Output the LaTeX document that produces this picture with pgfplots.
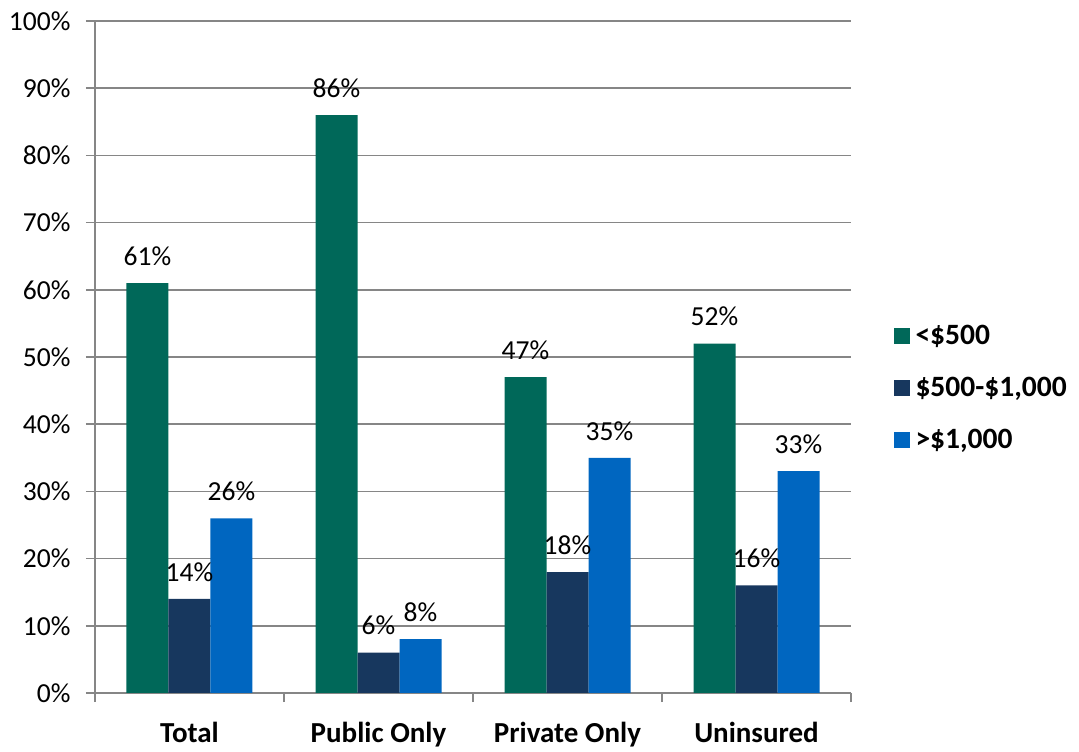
\documentclass[border=0pt]{standalone}
\usepackage{pgfplots}
\pgfplotsset{compat=1.18}
\usepackage{fontspec}
\setmainfont{Carlito}
\definecolor{cgreen}{RGB}{0,104,89}
\definecolor{cnavy}{RGB}{23,55,94}
\definecolor{cblue}{RGB}{0,102,192}
\definecolor{cgrid}{RGB}{134,134,134}
\begin{document}
\begin{tikzpicture}
\path[use as bounding box] (-95pt,-59pt) rectangle (984pt,693pt);
\begin{axis}[
    at={(0,0)}, anchor=south west,
    scale only axis,
    width=756pt, height=672pt,
    ybar=0pt, bar width=42pt,
    xmin=-0.5, xmax=3.5,
    ymin=0, ymax=100,
    axis lines*=left,
    axis line style={cgrid, line width=1.5pt},
    tick align=outside,
    tick style={cgrid, line width=1.5pt},
    major tick length=9pt,
    xtick={-0.5,0.5,1.5,2.5,3.5},
    xticklabels={},
    extra x ticks={0,1,2,3},
    extra x tick labels={Total,Public Only,Private Only,Uninsured},
    extra x tick style={major tick length=0pt, grid=none,
        tick label style={font=\fontsize{29}{32}\selectfont\bfseries, yshift=-26pt}},
    ytick={0,10,...,100},
    yticklabel={\pgfmathprintnumber{\tick}\%},
    ymajorgrids,
    grid style={cgrid, line width=1.5pt},
    /pgf/number format/assume math mode=true,
    tick label style={font=\fontsize{27.5}{30}\selectfont},
    yticklabel style={xshift=-12pt},
    nodes near coords={\pgfmathprintnumber{\pgfplotspointmeta}\%},
    every node near coord/.append style={font=\fontsize{27.5}{30}\selectfont, anchor=center, yshift=27pt, text=black},
    legend style={at={(1.052,0.454)}, anchor=west, draw=none, fill=none,
        font=\fontsize{29.5}{32}\selectfont\bfseries, row sep=27pt,
        /tikz/every odd column/.append style={column sep=4pt}},
    legend cell align=left,
    legend image code/.code={\fill[#1,draw=none] (0pt,-8pt) rectangle (16pt,8pt);},
    clip=false,
]
\addplot[fill=cgreen, draw=none] coordinates {(0,61) (1,86) (2,47) (3,52)};
\addplot[fill=cnavy, draw=none] coordinates {(0,14) (1,6) (2,18) (3,16)};
\addplot[fill=cblue, draw=none] coordinates {(0,26) (1,8) (2,35) (3,33)};
\legend{<\$500,\$500-\$1{,}000,>\$1{,}000}
\end{axis}
\end{tikzpicture}
\end{document}
